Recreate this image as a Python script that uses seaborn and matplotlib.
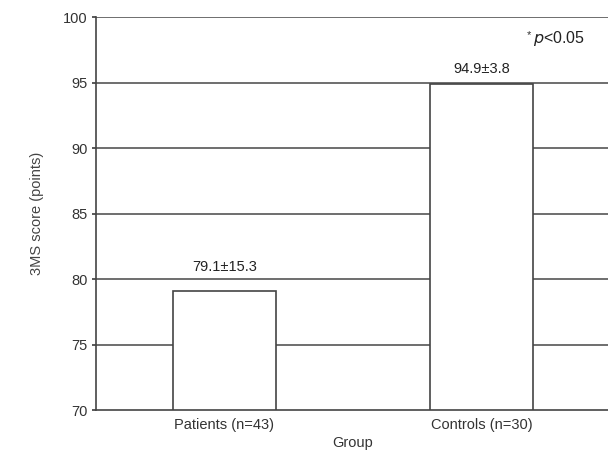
import matplotlib
matplotlib.use("Agg")
import matplotlib.pyplot as plt
import seaborn as sns
import pandas as pd

groups = ["Patients (n=43)", "Controls (n=30)"]
means = [79.1, 94.9]
sds = [15.3, 3.8]
y_ticks = [70, 75, 80, 85, 90, 95, 100]

sns.set_theme(style="white")
plt.rcParams["font.family"] = ["Liberation Sans", "DejaVu Sans"]

df = pd.DataFrame({"Group": groups, "Score": means})

fig = plt.figure(figsize=(6.08, 4.70), dpi=100)
ax = fig.add_axes([96 / 608, 60 / 470, 514 / 608, 393 / 470])

# horizontal reference lines behind the bars
for yv in y_ticks[1:]:
    ax.axhline(yv, color="#555555", lw=1.2, zorder=0)

sns.barplot(data=df, x="Group", y="Score", ax=ax, width=0.4,
            color="white", edgecolor="#444444", linewidth=1.2,
            errorbar=None, zorder=2)
for p in ax.patches:
    p.set_facecolor("white")

ax.set_xlim(-0.5, 1.5)
ax.set_ylim(70, 100)
ax.set_yticks(y_ticks)
ax.set_yticklabels([str(v) for v in y_ticks], fontsize=10.5, color="#333333")
ax.tick_params(axis="x", labelsize=10.5, colors="#333333", length=0, pad=6)
ax.tick_params(axis="y", length=3, color="#444444", left=True, pad=3)
ax.set_xlabel("Group", fontsize=10.5, color="#333333", labelpad=3)
ax.set_ylabel("3MS score (points)", fontsize=10.5, color="#444444", labelpad=14)

for s in ["top", "right"]:
    ax.spines[s].set_visible(False)
for s in ["left", "bottom"]:
    ax.spines[s].set_color("#444444")
    ax.spines[s].set_linewidth(1.2)

label_gap = [1.3, 0.6]
for i, (m, sd) in enumerate(zip(means, sds)):
    ax.text(i, m + label_gap[i], f"{m:.1f}\u00b1{sd:.1f}", ha="center", va="bottom",
            fontsize=10.5, color="#222222")

ax.text(1.178, 98.6, "*", ha="left", va="center", fontsize=8, color="#333333")
ax.text(1.2, 98.35, r"$p$<0.05", ha="left", va="center", fontsize=11.5, color="#222222")

fig.savefig("out.png", dpi=100)
